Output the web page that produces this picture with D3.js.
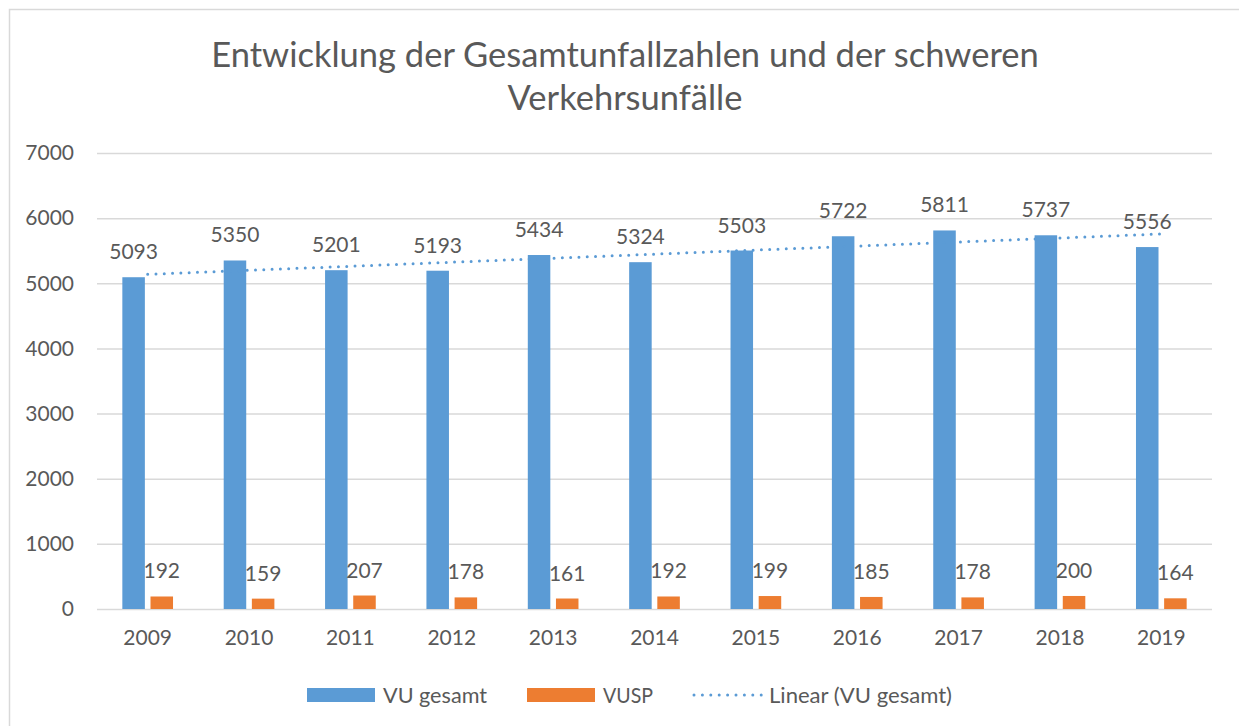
<!DOCTYPE html>
<html>
<head>
<meta charset="utf-8">
<script src="https://cdn.jsdelivr.net/npm/d3@7"></script>
<style>
body { margin: 0; background: #fff; }
text { font-family: Lato, "Open Sans", sans-serif; fill: #595959; }
</style>
</head>
<body>
<script>
var years = ["2009", "2010", "2011", "2012", "2013", "2014", "2015", "2016", "2017", "2018", "2019"];
var vuGesamt = [5093, 5350, 5201, 5193, 5434, 5324, 5503, 5722, 5811, 5737, 5556];
var vusp = [192, 159, 207, 178, 161, 192, 199, 185, 178, 200, 164];
var seriesNames = ["VU gesamt", "VUSP"];
var yTicks = [0, 1000, 2000, 3000, 4000, 5000, 6000, 7000];
var titleLines = ["Entwicklung der Gesamtunfallzahlen und der schweren", "Verkehrsunfälle"];

var width = 1239, height = 726;
var colors = {"VU gesamt": "#5b9bd5", "VUSP": "#ed7d31"};

var svg = d3.select("body").append("svg")
    .attr("width", width)
    .attr("height", height);

// outer chart border (only left/top visible in the frame)
svg.append("rect")
    .attr("x", 9.5).attr("y", 9.5)
    .attr("width", 1300).attr("height", 800)
    .attr("fill", "none")
    .attr("stroke", "#d9d9d9")
    .attr("stroke-width", 1.5);

var margin = {top: 153, left: 97, right: 27, bottom: 117};
var w = width - margin.left - margin.right,
    h = height - margin.top - margin.bottom;

var g = svg.append("g").attr("transform", "translate(" + margin.left + "," + margin.top + ")");

var x = d3.scaleBand().domain(years).range([0, w]).padding(0);
var bw = x.bandwidth();
var x1 = d3.scaleBand().domain(seriesNames).range([bw * 0.25, bw * 0.75]).paddingInner(0.2);
var y = d3.scaleLinear().domain([0, 7000]).range([h, 0]);

// title
svg.append("text")
    .attr("x", 625).attr("text-anchor", "middle")
    .style("font-size", "34.5px")
    .selectAll("tspan").data(titleLines).enter().append("tspan")
    .attr("x", 625)
    .attr("y", function(d, i) { return 67 + i * 43; })
    .text(function(d) { return d; });

// grid + y labels
var yAxis = g.append("g")
    .call(d3.axisLeft(y).tickValues(yTicks).tickSize(-w).tickPadding(23).tickFormat(d3.format("d")));
yAxis.select(".domain").remove();
yAxis.selectAll(".tick line").attr("stroke", "#d9d9d9").attr("stroke-width", 1.5);
yAxis.selectAll(".tick text").style("font-size", "21px").attr("fill", "#595959").attr("font-family", null);

// x labels
var xAxis = g.append("g")
    .attr("transform", "translate(0," + h + ")")
    .call(d3.axisBottom(x).tickSize(0).tickPadding(21));
xAxis.select(".domain").remove();
xAxis.selectAll(".tick text").style("font-size", "21px").attr("fill", "#595959").attr("font-family", null);

var rows = years.map(function(yr, i) {
  return {year: yr, vals: [{s: "VU gesamt", v: vuGesamt[i]}, {s: "VUSP", v: vusp[i]}]};
});

var grp = g.selectAll(".grp").data(rows).enter().append("g")
    .attr("transform", function(d) { return "translate(" + x(d.year) + ",0)"; });

grp.selectAll("rect").data(function(d) { return d.vals; }).enter().append("rect")
    .attr("x", function(d) { return x1(d.s); })
    .attr("y", function(d) { return y(d.v); })
    .attr("width", x1.bandwidth())
    .attr("height", function(d) { return h - y(d.v); })
    .attr("fill", function(d) { return colors[d.s]; });

grp.selectAll(".lbl").data(function(d) { return d.vals; }).enter().append("text")
    .attr("class", "lbl")
    .attr("x", function(d) { return x1(d.s) + x1.bandwidth() / 2; })
    .attr("y", function(d) { return y(d.v) - 18; })
    .attr("text-anchor", "middle")
    .style("font-size", "21px")
    .attr("fill", "#404040")
    .text(function(d) { return d.v; });

// linear trendline of VU gesamt (least squares)
var n = vuGesamt.length;
var mx = d3.mean(d3.range(n)), my = d3.mean(vuGesamt);
var slope = d3.sum(vuGesamt, function(v, i) { return (i - mx) * (v - my); }) /
            d3.sum(d3.range(n), function(i) { return (i - mx) * (i - mx); });
var icpt = my - slope * mx;
g.append("line")
    .attr("x1", x(years[0]) + bw / 2)
    .attr("x2", x(years[n - 1]) + bw / 2)
    .attr("y1", y(icpt))
    .attr("y2", y(icpt + slope * (n - 1)))
    .attr("stroke", "#5b9bd5")
    .attr("stroke-width", 3)
    .attr("stroke-linecap", "round")
    .attr("stroke-dasharray", "0,8.3");

// legend
var legend = svg.append("g").attr("transform", "translate(0,695)");
var items = [
  {label: "VU gesamt", type: "bar", color: colors["VU gesamt"], x: 307, len: 104},
  {label: "VUSP", type: "bar", color: colors["VUSP"], x: 527, len: 50},
  {label: "Linear (VU gesamt)", type: "dot", color: "#5b9bd5", x: 693, len: 183}
];
items.forEach(function(it) {
  if (it.type === "bar") {
    legend.append("rect").attr("x", it.x).attr("y", -7).attr("width", 68).attr("height", 14).attr("fill", it.color);
  } else {
    legend.append("line").attr("x1", it.x + 1).attr("x2", it.x + 69).attr("y1", 0).attr("y2", 0)
      .attr("stroke", it.color).attr("stroke-width", 3).attr("stroke-linecap", "round")
      .attr("stroke-dasharray", "0,8.4");
  }
  legend.append("text").attr("x", it.x + 76).attr("y", 8).style("font-size", "21px")
    .attr("textLength", it.len).attr("lengthAdjust", "spacingAndGlyphs")
    .text(it.label);
});
</script>
</body>
</html>
